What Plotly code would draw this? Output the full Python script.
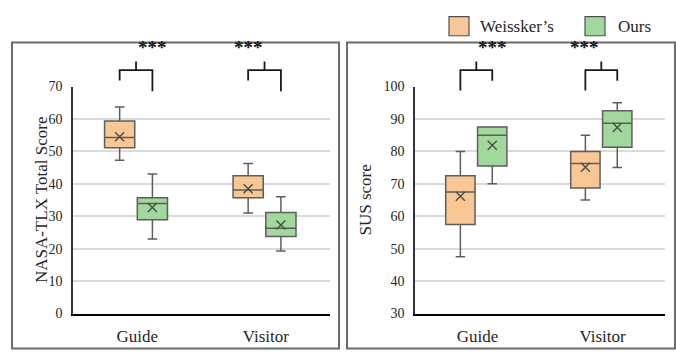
import plotly.graph_objects as go

# ---------------- data ----------------
categories = ["Guide", "Visitor"]
groups = ["Weissker\u2019s", "Ours"]

# NASA-TLX total score (left panel)
tlx_weissker = dict(lower=[47.3, 31.0], q1=[51.1, 35.7], median=[54.3, 38.1],
                    q3=[59.4, 42.5], upper=[63.7, 46.3], mean=[54.5, 38.5])
tlx_ours = dict(lower=[23.0, 19.3], q1=[28.9, 23.8], median=[33.9, 26.3],
                q3=[35.7, 31.2], upper=[43.0, 36.0], mean=[32.7, 27.3])

# SUS score (right panel)
sus_weissker = dict(lower=[47.5, 65.0], q1=[57.5, 68.7], median=[67.5, 76.3],
                    q3=[72.5, 80.0], upper=[80.0, 85.0], mean=[66.2, 75.1])
sus_ours = dict(lower=[70.0, 75.0], q1=[75.5, 81.3], median=[85.0, 88.7],
                q3=[87.5, 92.5], upper=[87.5, 95.0], mean=[81.9, 87.4])

significance = ["***", "***"]

tlx_ticks = [0, 10, 20, 30, 40, 50, 60, 70]
sus_ticks = [30, 40, 50, 60, 70, 80, 90, 100]

# ---------------- style ----------------
W, H = 676, 358
ORANGE = "#F9C794"
GREEN = "#A1D89B"
EDGE = "#5E5E5E"
TEXT = "#262626"
FONT = "Liberation Serif"
OFFSETS = [-0.137, 0.118]
BOXW = 0.235

fig = go.Figure()

panels = [
    dict(xa="x", ya="y", data=[tlx_weissker, tlx_ours]),
    dict(xa="x2", ya="y2", data=[sus_weissker, sus_ours]),
]
colors = [ORANGE, GREEN]

for p in panels:
    for gi, d in enumerate(p["data"]):
        xs = [i + OFFSETS[gi] for i in range(len(categories))]
        fig.add_trace(go.Box(
            x=xs, q1=d["q1"], median=d["median"], q3=d["q3"],
            lowerfence=d["lower"], upperfence=d["upper"],
            width=BOXW, whiskerwidth=0.32,
            fillcolor=colors[gi], line=dict(color=EDGE, width=1.5),
            boxpoints=False, showlegend=False, hoverinfo="skip",
            xaxis=p["xa"], yaxis=p["ya"],
        ))
        fig.add_trace(go.Scatter(
            x=xs, y=d["mean"], mode="markers",
            marker=dict(symbol="x-thin", size=9,
                        line=dict(color="#4a4a4a", width=1.4)),
            showlegend=False, hoverinfo="skip",
            xaxis=p["xa"], yaxis=p["ya"],
        ))

# domains (paper)
y_dom = [38 / H, 275 / H]
xdom1 = [73 / W, 330 / W]
xdom2 = [415 / W, 665 / W]

axis_common = dict(showgrid=False, zeroline=False, showline=True,
                   linecolor="#000000", linewidth=1.5,
                   tickfont=dict(family=FONT, size=17, color=TEXT),
                   tickmode="array", tickvals=[0, 1], ticktext=categories,
                   range=[-0.5, 1.5], ticks="", ticklabelstandoff=6)
yaxis_common = dict(showgrid=True, gridcolor="#DADADA", gridwidth=1.6,
                    zeroline=False, showline=True, linecolor="#333333",
                    linewidth=1.5, ticks="",
                    tickfont=dict(family=FONT, size=14, color=TEXT),
                    ticklabelstandoff=6)

fig.update_layout(
    width=W, height=H,
    margin=dict(l=0, r=0, t=0, b=0),
    paper_bgcolor="white", plot_bgcolor="white",
    boxmode="overlay",
    xaxis=dict(domain=xdom1, anchor="y", **axis_common),
    xaxis2=dict(domain=xdom2, anchor="y2", **axis_common),
    yaxis=dict(domain=y_dom, anchor="x", range=[tlx_ticks[0], tlx_ticks[-1]],
               tickvals=tlx_ticks, **yaxis_common),
    yaxis2=dict(domain=y_dom, anchor="x2", range=[sus_ticks[0], sus_ticks[-1]],
                tickvals=sus_ticks, **yaxis_common),
)

shapes = []
annotations = []

# panel frames
for x0, x1 in [(12, 339), (347, 675)]:
    shapes.append(dict(type="rect", xref="paper", yref="paper",
                       x0=x0 / W, x1=x1 / W, y0=1.5 / H, y1=1 - 37 / H,
                       line=dict(color="#6B6B6B", width=2), layer="below"))

# significance brackets (x domain / y domain units)
def xd(v):
    return (v + 0.5) / 2.0

bracket_specs = [
    ("x domain", "y domain", 1.026, 0.979),   # left panel: left leg higher
    ("x2 domain", "y2 domain", 0.983, 1.025), # right panel: right leg higher
]
ytop = 1.072
ytick = 1.11
for xr, yr, yl, yrr in bracket_specs:
    for ci in range(len(categories)):
        xl = xd(ci + OFFSETS[0])
        xrt = xd(ci + OFFSETS[1])
        xm = (xl + xrt) / 2
        path = (f"M {xl},{yl} L {xl},{ytop} L {xrt},{ytop} L {xrt},{yrr} "
                f"M {xm},{ytop} L {xm},{ytick}")
        shapes.append(dict(type="path", xref=xr, yref=yr, path=path,
                           line=dict(color="#1a1a1a", width=1.8)))
        annotations.append(dict(xref=xr, yref=yr, x=xm, y=1.118,
                                text="<b>" + significance[ci] + "</b>",
                                showarrow=False, yanchor="bottom",
                                font=dict(family=FONT, size=19, color="#111111")))

# axis titles
annotations.append(dict(xref="paper", yref="paper", x=30 / W, y=1 - 201 / H,
                        text="NASA-TLX Total Score", textangle=-90,
                        showarrow=False,
                        font=dict(family=FONT, size=17, color=TEXT)))
annotations.append(dict(xref="paper", yref="paper", x=366 / W, y=1 - 202 / H,
                        text="SUS score", textangle=-90, showarrow=False,
                        font=dict(family=FONT, size=17, color=TEXT)))

# legend
for (sx, tx, col, label) in [(449, 478, ORANGE, groups[0]),
                             (585, 616, GREEN, groups[1])]:
    shapes.append(dict(type="rect", xref="paper", yref="paper",
                       x0=sx / W, x1=(sx + 20) / W,
                       y0=1 - 30 / H, y1=1 - 10 / H,
                       fillcolor=col, line=dict(color="#505050", width=1.2)))
    annotations.append(dict(xref="paper", yref="paper", x=tx / W,
                            y=1 - 20 / H, xanchor="left", yanchor="middle",
                            text=label, showarrow=False,
                            font=dict(family=FONT, size=17, color=TEXT)))

fig.update_layout(shapes=shapes, annotations=annotations)

post = """
var st = document.createElement('style');
st.innerHTML = 'html,body{margin:0;padding:0;overflow:hidden;width:676px;height:358px;}' +
  '.plotly-graph-div{position:fixed;top:0;left:0;}';
document.head.appendChild(st);
"""
fig.write_html("out.html", config={"displayModeBar": False},
               post_script=post)
